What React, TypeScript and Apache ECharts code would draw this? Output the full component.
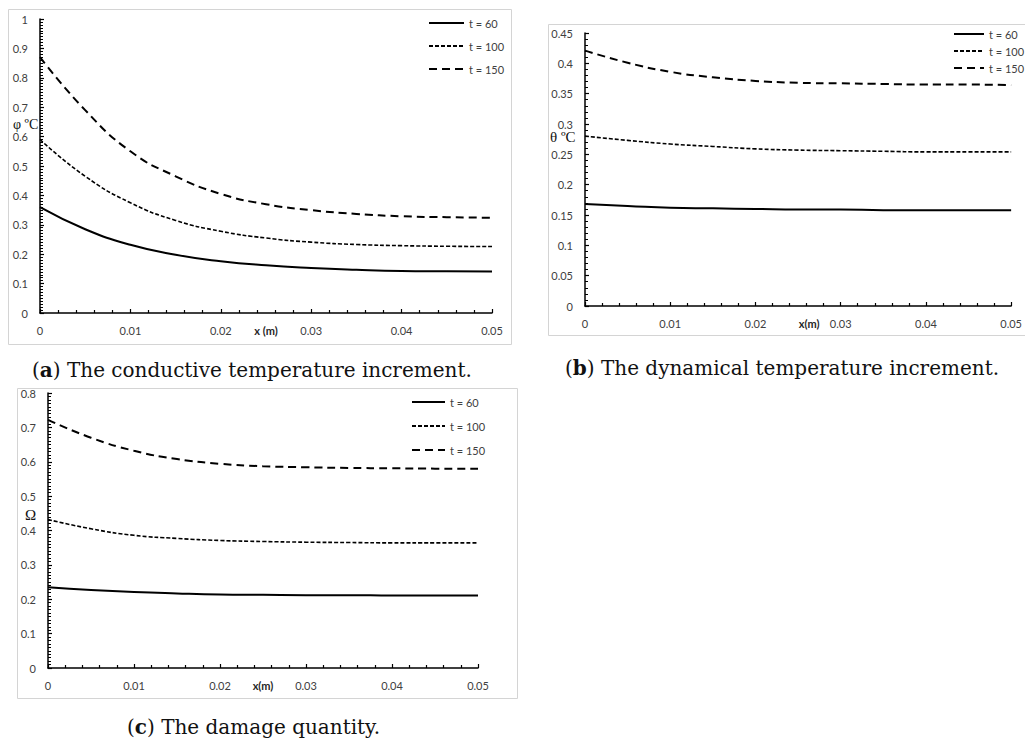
import React, { useEffect, useRef } from "react";
import * as echarts from "echarts";

// ---- data ----
const X_POSITIONS = [0, 0.005, 0.01, 0.015, 0.02, 0.025, 0.03, 0.035, 0.04, 0.045, 0.05];
const SERIES_NAMES = ["t = 60", "t = 100", "t = 150"];

// (a) conductive temperature increment φ
const PHI_T60 = [0.36, 0.285, 0.232, 0.198, 0.176, 0.162, 0.153, 0.147, 0.143, 0.142, 0.141];
const PHI_T100 = [0.59, 0.465, 0.375, 0.315, 0.278, 0.255, 0.241, 0.233, 0.229, 0.227, 0.226];
const PHI_T150 = [0.87, 0.69, 0.55, 0.465, 0.405, 0.37, 0.35, 0.337, 0.329, 0.326, 0.324];

// (b) dynamical temperature increment θ
const THETA_T60 = [0.168, 0.165, 0.162, 0.161, 0.16, 0.159, 0.159, 0.158, 0.158, 0.158, 0.158];
const THETA_T100 = [0.28, 0.273, 0.267, 0.263, 0.259, 0.257, 0.256, 0.255, 0.254, 0.254, 0.254];
const THETA_T150 = [0.421, 0.401, 0.386, 0.377, 0.371, 0.368, 0.367, 0.366, 0.365, 0.365, 0.364];

// (c) damage quantity Ω
const OMEGA_T60 = [0.235, 0.227, 0.221, 0.217, 0.214, 0.213, 0.212, 0.212, 0.211, 0.211, 0.211];
const OMEGA_T100 = [0.432, 0.405, 0.386, 0.377, 0.371, 0.368, 0.366, 0.365, 0.364, 0.364, 0.364];
const OMEGA_T150 = [0.722, 0.67, 0.632, 0.608, 0.594, 0.587, 0.584, 0.582, 0.581, 0.58, 0.58];

const X_TICK = { min: 0, max: 0.05, interval: 0.01 };
const Y_A = { min: 0, max: 1, interval: 0.1 };
const Y_B = { min: 0, max: 0.45, interval: 0.05 };
const Y_C = { min: 0, max: 0.8, interval: 0.1 };

const SANS = "Lato, 'Liberation Sans', sans-serif";
const SERIF = "'Liberation Serif', 'DejaVu Serif', serif";
const CAPTION_FONT = "'DejaVu Serif', 'Liberation Serif', serif";
const LABEL_COLOR = "#404040";

const LINE_STYLES = [
  { color: "#000", width: 2, type: "solid" },
  { color: "#000", width: 1.6, type: [4, 2] },
  { color: "#000", width: 2, type: [8, 5] },
];

const pairs = (ys: number[]) => X_POSITIONS.map((x, i) => [x, ys[i]]);

function xAxisFor(gridIndex: number, name: string, shift: number) {
  return {
    type: "value",
    gridIndex,
    ...X_TICK,
    name,
    nameLocation: "middle",
    nameGap: 12,
    nameMoveOverlap: false,
    nameTextStyle: {
      fontFamily: SANS,
      fontSize: 11,
      fontWeight: "bold",
      color: "#262626",
      padding: [0, 0, 0, shift],
    },
    axisLine: { show: true, onZero: false, lineStyle: { color: "#000", width: 1.5 } },
    axisTick: { show: true, inside: true, length: 4, lineStyle: { color: "#000", width: 1.2 } },
    minorTick: { show: true, splitNumber: 5, length: 3, lineStyle: { color: "#000", width: 1.2 } },
    splitLine: { show: false },
    minorSplitLine: { show: false },
    axisLabel: { margin: 12, fontFamily: SANS, fontSize: 11, color: LABEL_COLOR },
  };
}

function yAxisFor(gridIndex: number, range: any, minorSplit: number) {
  return {
    type: "value",
    gridIndex,
    ...range,
    axisLine: { show: true, onZero: false, lineStyle: { color: "#000", width: 1.5 } },
    axisTick: { show: true, inside: true, length: 4, lineStyle: { color: "#000", width: 1.2 } },
    minorTick: { show: true, splitNumber: minorSplit, length: 3, lineStyle: { color: "#000", width: 1 } },
    splitLine: { show: false },
    minorSplitLine: { show: false },
    axisLabel: { margin: 12, fontFamily: SANS, fontSize: 11, color: LABEL_COLOR },
  };
}

function seriesFor(index: number, sets: number[][]) {
  return sets.map((ys, k) => ({
    type: "line",
    name: SERIES_NAMES[k],
    xAxisIndex: index,
    yAxisIndex: index,
    data: pairs(ys),
    smooth: true,
    symbol: "none",
    showSymbol: false,
    lineStyle: LINE_STYLES[k],
    itemStyle: { color: "#000" },
  }));
}

function legendFor(left: number, top: number, gap: number, width: number) {
  return {
    orient: "vertical",
    left,
    top,
    itemWidth: width,
    itemHeight: 12,
    itemGap: gap,
    selectedMode: false,
    data: SERIES_NAMES,
    itemStyle: { color: "rgba(0,0,0,0)", borderColor: "rgba(0,0,0,0)", borderWidth: 0, opacity: 0 },
    textStyle: { fontFamily: SANS, fontSize: 11, color: LABEL_COLOR, lineHeight: 12 },
  };
}

function caption(x: number, y: number, letter: string, rest: string) {
  return {
    type: "text",
    x,
    y,
    style: {
      text: "(" + "{b|" + letter + "}" + ")" + rest,
      fontFamily: CAPTION_FONT,
      fontSize: 20,
      fill: "#111",
      verticalAlign: "middle",
      align: "left",
      rich: {
        b: { fontFamily: CAPTION_FONT, fontSize: 20, fontWeight: "bold", fill: "#111" },
      },
    },
  };
}

function frame(x: number, y: number, w: number, h: number) {
  return {
    type: "rect",
    shape: { x, y, width: w, height: h },
    style: { fill: "none", stroke: "#d4d4d4", lineWidth: 1 },
    silent: true,
  };
}

function yName(x: number, y: number, text: string, size: number) {
  return {
    type: "text",
    x,
    y,
    style: {
      text,
      fontFamily: SERIF,
      fontSize: size,
      fill: "#111",
      verticalAlign: "middle",
      align: "left",
    },
  };
}

export default function App() {
  const ref = useRef<HTMLDivElement>(null);

  useEffect(() => {
    if (!ref.current) return;
    const chart = echarts.init(ref.current, undefined, { renderer: "svg" });
    const option: any = {
      animation: false,
      backgroundColor: "#fff",
      grid: [
        { left: 40, top: 19, width: 452, height: 294 },
        { left: 585, top: 33, width: 430, height: 273 },
        { left: 48, top: 393, width: 430, height: 275 },
      ],
      xAxis: [
        xAxisFor(0, "x (m)", 0),
        xAxisFor(1, "x(m)", 22),
        xAxisFor(2, "x(m)", 0),
      ],
      yAxis: [yAxisFor(0, Y_A, 10), yAxisFor(1, Y_B, 5), yAxisFor(2, Y_C, 10)],
      legend: [
        legendFor(423, 12, 11, 35),
        legendFor(948, 23, 5, 30),
        legendFor(406, 391, 12, 33),
      ],
      series: [
        ...seriesFor(0, [PHI_T60, PHI_T100, PHI_T150]),
        ...seriesFor(1, [THETA_T60, THETA_T100, THETA_T150]),
        ...seriesFor(2, [OMEGA_T60, OMEGA_T100, OMEGA_T150]),
      ],
      graphic: [
        frame(8.5, 9.5, 503, 335),
        frame(548.5, 24.5, 490, 311),
        frame(17.5, 388.5, 500, 310),
        yName(13, 124, "φ ºC", 14),
        yName(550, 137, "θ ºC", 15),
        yName(25, 515, "Ω", 15),
        caption(32, 370, "a", " The conductive temperature increment."),
        caption(565, 368, "b", " The dynamical temperature increment."),
        caption(127, 727, "c", " The damage quantity."),
      ],
    };
    chart.setOption(option);
    return () => chart.dispose();
  }, []);

  return (
    <div
      ref={ref}
      style={{ position: "absolute", left: 0, top: 0, width: 1025, height: 738, background: "#fff" }}
    />
  );
}
